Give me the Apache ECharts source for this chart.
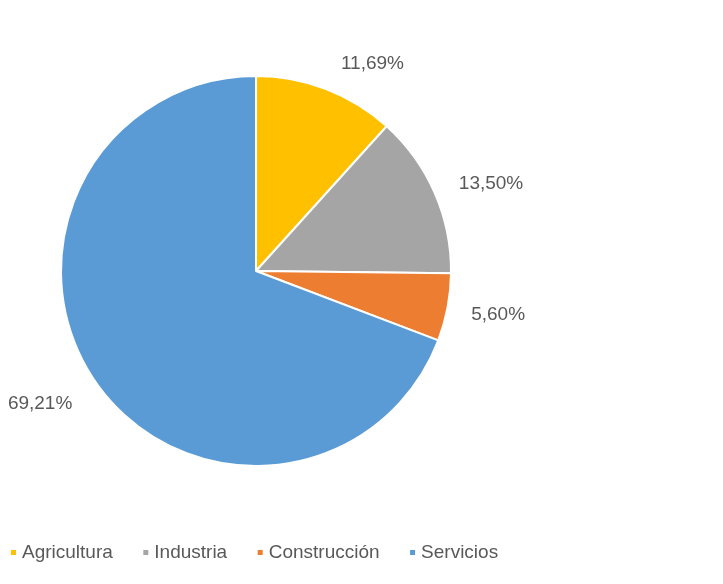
<!DOCTYPE html>
<html>
<head>
<meta charset="utf-8">
<script src="https://cdn.jsdelivr.net/npm/echarts@6/dist/echarts.min.js"></script>
<style>
  html, body { margin: 0; padding: 0; background: #fff; }
  #chart { width: 723px; height: 584px; }
</style>
</head>
<body>
<div id="chart"></div>
<script>
// datos del gráfico
var categorias = ['Agricultura', 'Industria', 'Construcción', 'Servicios'];
var valores = [11.69, 13.50, 5.60, 69.21];
var colores = ['#FFC000', '#A5A5A5', '#ED7D31', '#5B9BD5'];
// pequeños ajustes de las etiquetas
var ajustes = [[2, -5], [-1, 0], [-3, 3], [0, 10]];

var fuente = "'Liberation Sans', Arial, sans-serif";

var chart = echarts.init(document.getElementById('chart'));

var option = {
  animation: false,
  color: colores,
  legend: {
    data: categorias,
    left: 4,
    top: 538,
    icon: 'rect',
    itemWidth: 7,
    itemHeight: 7,
    itemGap: 28.5,
    textStyle: {
      color: '#595959',
      fontSize: 19,
      fontFamily: fuente
    }
  },
  series: [
    {
      type: 'pie',
      center: [256, 271],
      radius: 195,
      startAngle: 90,
      clockwise: true,
      itemStyle: {
        borderColor: '#fff',
        borderWidth: 2
      },
      label: {
        show: true,
        position: 'outside',
        color: '#595959',
        fontSize: 19,
        fontFamily: fuente,
        overflow: 'none',
        formatter: function (p) {
          return p.value.toFixed(2).replace('.', ',') + '%';
        }
      },
      labelLine: {
        show: false,
        length: 22,
        length2: 0
      },
      data: categorias.map(function (c, i) {
        return { name: c, value: valores[i], label: { offset: ajustes[i] } };
      })
    }
  ]
};

chart.setOption(option);
</script>
</body>
</html>
